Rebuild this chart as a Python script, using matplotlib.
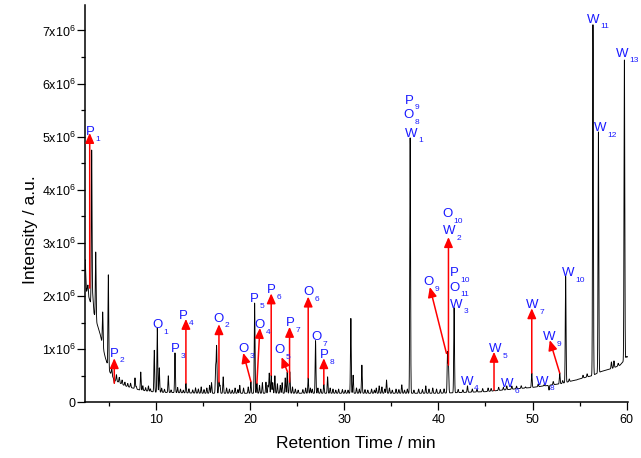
import numpy as np
import matplotlib
matplotlib.use('Agg')
import matplotlib.pyplot as plt
from matplotlib.ticker import MultipleLocator

plt.rcParams['font.family'] = ['Liberation Sans', 'DejaVu Sans']
plt.rcParams['mathtext.fontset'] = 'custom'
plt.rcParams['mathtext.rm'] = 'Liberation Sans'
plt.rcParams['mathtext.it'] = 'Liberation Sans:italic'

# baseline of the chromatogram (min, intensity in 1e6)
base_t = [2.46, 2.8, 3.3, 3.7, 4.05, 4.6, 5.1, 5.6, 6.7, 8.3, 10, 15, 20, 30, 40,
          45, 48, 50, 53, 55, 56.3, 57.3, 58.5, 59.3, 59.7, 60.1]
base_y = [2.45, 2.0, 1.75, 1.5, 1.3, 0.85, 0.57, 0.42, 0.31, 0.23, 0.19, 0.17, 0.17, 0.17, 0.17,
          0.2, 0.25, 0.28, 0.35, 0.44, 0.5, 0.58, 0.64, 0.7, 0.78, 0.86]

# main peaks: retention time and apex intensity (1e6)
peak_t = [2.48, 2.62, 2.78, 2.92, 3.17, 3.30, 3.60, 4.34, 4.94, 5.30, 5.57, 7.77, 8.38,
          9.82, 10.14, 10.35, 11.31, 12.02, 13.18, 16.34, 16.44, 16.69, 17.14,
          20.08, 20.48, 20.72, 21.68, 22.03, 22.24, 22.63, 23.73, 23.94, 24.19, 24.23,
          26.17, 26.95, 27.83, 28.23, 30.70, 30.94, 31.87, 33.71, 34.49, 36.11,
          37.0, 38.66, 40.97, 41.07, 41.67, 43.09, 45.28, 45.91, 47.26, 49.25,
          49.92, 51.22, 51.75, 52.89, 53.52, 54.66, 55.36, 56.42, 57.0, 58.38,
          58.65, 59.76, 59.95]
peak_y = [2.68, 2.1, 2.2, 1.95, 4.75, 2.0, 2.83, 1.70, 2.40, 0.65, 0.36, 0.46, 0.57,
          0.98, 1.40, 0.65, 0.50, 0.93, 0.36, 0.66, 1.05, 0.38, 0.48,
          0.39, 1.87, 0.36, 0.38, 0.55, 0.51, 0.50, 0.46, 0.57, 0.38, 0.42,
          0.46, 1.16, 0.34, 0.48, 1.58, 0.51, 0.70, 0.31, 0.42, 0.33,
          4.98, 0.31, 0.93, 0.70, 1.78, 0.31, 0.27, 0.23, 0.31, 0.29,
          0.55, 0.33, 0.23, 0.55, 2.37, 0.42, 0.51, 7.11, 5.09, 0.76,
          0.78, 6.45, 0.86]

# small background peaks (time, height above baseline in 1e6)
grass_t = [5.8, 6.1, 6.4, 6.7, 7.0, 7.3, 7.9, 8.6, 8.9, 9.2, 9.4, 10.6, 10.9, 11.6,
           12.3, 12.6, 12.9, 13.5, 13.9, 14.2, 14.5, 14.8, 15.1, 15.4, 15.7, 15.9,
           16.8, 17.5, 17.8, 18.1, 18.4, 18.7, 18.9, 19.3, 19.8, 21.0, 21.3, 21.9,
           22.4, 22.9, 23.2, 23.4, 24.5, 24.8, 25.1, 25.6, 25.9, 26.4, 26.6, 27.2,
           27.5, 28.5, 28.8, 29.1, 29.4, 29.8, 30.1, 30.4, 31.3, 31.6, 32.2, 32.5,
           32.9, 33.2, 33.4, 34.0, 34.3, 34.8, 35.1, 35.5, 35.8, 36.4, 36.7, 37.4,
           37.9, 38.3, 39.0, 39.4, 39.8, 40.2, 40.6, 42.1, 42.6, 43.6, 44.1, 44.7,
           45.6, 46.4, 46.9, 47.8, 48.3, 48.8, 50.6, 52.2, 53.2, 53.9, 55.8, 59.1]
grass_y = [0.12, 0.10, 0.08, 0.07, 0.06, 0.08, 0.05, 0.09, 0.06, 0.10, 0.05, 0.08, 0.06, 0.05,
           0.10, 0.07, 0.05, 0.08, 0.06, 0.10, 0.08, 0.12, 0.07, 0.10, 0.15, 0.20,
           0.15, 0.10, 0.08, 0.06, 0.10, 0.07, 0.15, 0.10, 0.12, 0.15, 0.20, 0.15,
           0.20, 0.18, 0.15, 0.20, 0.12, 0.08, 0.06, 0.07, 0.10, 0.10, 0.08, 0.10,
           0.08, 0.10, 0.08, 0.06, 0.08, 0.07, 0.06, 0.06, 0.10, 0.08, 0.07, 0.06,
           0.08, 0.06, 0.10, 0.12, 0.08, 0.10, 0.06, 0.08, 0.07, 0.06, 0.08, 0.06,
           0.08, 0.07, 0.08, 0.10, 0.08, 0.07, 0.08, 0.06, 0.05, 0.06, 0.05, 0.06,
           0.05, 0.06, 0.05, 0.06, 0.05, 0.05, 0.05, 0.06, 0.05, 0.05, 0.06, 0.05]

# peak labels: letter, subscript, position (min, 1e6) of the letter baseline
label_letter = ['P', 'P', 'O', 'P', 'P', 'O', 'O', 'O', 'P', 'P', 'O', 'P', 'O', 'O', 'P',
                'P', 'O', 'W', 'W', 'W', 'W', 'O', 'W', 'O', 'P', 'O', 'W', 'W', 'W',
                'W', 'W', 'W', 'W', 'W']
label_sub = ['1', '2', '1', '3', '4', '2', '3', '4', '5', '6', '5', '7', '6', '7', '8',
             '9', '8', '1', '11', '13', '12', '10', '2', '9', '10', '11', '3', '10', '7',
             '5', '9', '4', '6', '8']
label_t = [2.99, 5.54, 10.11, 12.05, 12.90, 16.61, 19.32, 21.02, 20.48, 22.28, 23.11, 24.23,
           26.21, 27.01, 27.86, 36.86, 36.78, 37.07, 56.46, 59.49, 57.22, 40.92, 41.19,
           39.0, 41.74, 41.66, 41.88, 53.79, 49.97, 46.07, 51.79, 43.04, 47.34, 51.05]
label_y = [5.03, 0.86, 1.39, 0.94, 1.56, 1.52, 0.95, 1.39, 1.89, 2.06, 0.93, 1.44,
           2.02, 1.17, 0.83, 5.62, 5.35, 5.00, 7.15, 6.51, 5.11, 3.48, 3.16,
           2.20, 2.37, 2.10, 1.78, 2.38, 1.77, 0.95, 1.17, 0.33, 0.29, 0.33]

# red arrows: tail and head (min, 1e6)
arrow_t0 = [2.96, 5.57, 13.18, 16.69, 20.08, 20.72, 22.24, 23.98, 24.19, 26.17, 27.83,
            40.86, 41.07, 45.91, 49.92, 52.89]
arrow_y0 = [2.15, 0.36, 0.36, 0.38, 0.39, 0.36, 0.51, 0.57, 0.38, 0.46, 0.34,
            0.92, 0.70, 0.23, 0.55, 0.55]
arrow_t1 = [2.96, 5.57, 13.18, 16.69, 19.27, 21.04, 22.24, 23.34, 24.19, 26.17, 27.83,
            39.09, 41.07, 45.91, 49.92, 51.83]
arrow_y1 = [5.07, 0.83, 1.57, 1.47, 0.93, 1.40, 2.05, 0.85, 1.42, 1.99, 0.83,
            2.17, 3.11, 0.95, 1.77, 1.17]

yticks = [0, 1, 2, 3, 4, 5, 6, 7]
ytick_labels = ['0'] + [r'$\mathregular{%dx10^6}$' % v for v in yticks[1:]]
xticks = [10, 20, 30, 40, 50, 60]

# build trace
t = np.linspace(2.46, 60.1, 14000)
trace = np.interp(t, base_t, base_y)
sigma = 0.04
for t0, a in zip(peak_t, peak_y):
    h = a - np.interp(t0, base_t, base_y)
    trace += h * np.exp(-0.5 * ((t - t0) / sigma) ** 2)
for t0, h in zip(grass_t, grass_y):
    trace += h * np.exp(-0.5 * ((t - t0) / sigma) ** 2)

fig = plt.figure(figsize=(6.41, 4.58), dpi=100)
ax = fig.add_axes([0.1326, 0.1216, 0.8465, 0.8675])
ax.plot(t, trace, color='black', lw=0.65)

blue = '#1a1aff'
for a0, b0, a1, b1 in zip(arrow_t0, arrow_y0, arrow_t1, arrow_y1):
    ax.annotate('', xy=(a1, b1), xytext=(a0, b0),
                arrowprops=dict(arrowstyle='-|>,head_length=0.5,head_width=0.22',
                                color='red', lw=1.1, mutation_scale=12,
                                shrinkA=0, shrinkB=0))

sub_dx = {'P': 3.9, 'O': 4.4, 'W': 5.2}
for let, sub, lt, ly in zip(label_letter, label_sub, label_t, label_y):
    ax.text(lt, ly, let, color=blue, fontsize=9.5, ha='center', va='baseline')
    ax.annotate(sub, xy=(lt, ly), xytext=(sub_dx[let], -0.5), textcoords='offset points',
                color=blue, fontsize=6, ha='left', va='top')

ax.set_xlim(2.46, 60.1)
ax.set_ylim(0, 7.48)
ax.set_xticks(xticks)
ax.set_yticks(yticks)
ax.set_yticklabels(ytick_labels)
ax.xaxis.set_minor_locator(MultipleLocator(5))
ax.yaxis.set_minor_locator(MultipleLocator(0.5))
ax.tick_params(which='major', length=5.5, width=0.9, labelsize=9, pad=3)
ax.tick_params(which='minor', length=3, width=0.9)
ax.tick_params(axis='y', pad=1)
for s in ['top', 'right']:
    ax.spines[s].set_visible(False)
for s in ['left', 'bottom']:
    ax.spines[s].set_linewidth(1.1)

ax.set_xlabel('Retention Time / min', fontsize=12.5)
ax.set_ylabel('Intensity / a.u.', fontsize=12.5)
ax.yaxis.set_label_coords(-0.087, 0.434)
ax.xaxis.set_label_coords(0.5, -0.085)

fig.savefig('out.png', dpi=100)
